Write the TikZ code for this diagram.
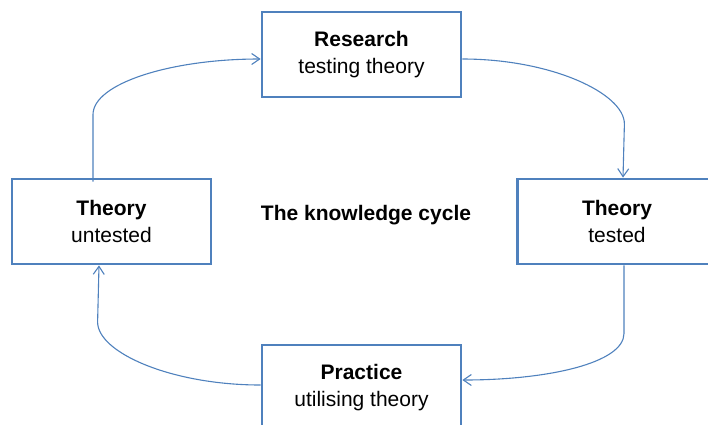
\documentclass[tikz,border=0pt]{standalone}
\usepackage{fontspec}
\setmainfont{Liberation Sans}
\usetikzlibrary{arrows.meta}

\definecolor{cycblue}{RGB}{79,129,189}

\begin{document}
\begin{tikzpicture}[x=1pt, y=-1pt,
    box/.style={draw=cycblue, line width=2.8pt, fill=white, minimum width=199pt,
      minimum height=85pt, align=center, font=\fontsize{21pt}{27pt}\selectfont},
    cycarrow/.style={draw=cycblue, line width=1.1pt,
      -{Straight Barb[length=8pt, width=11pt]}}]
  % The knowledge cycle
  \useasboundingbox (0,0) rectangle (708,424);

  % Stages
  \node[box] (research) at (361.5, 54.5) {\textbf{Research}\\testing theory};
  \node[box] (untested) at (111.5, 221.5) {\textbf{Theory}\\untested};
  \node[box] (tested) at (617, 221.5) {\textbf{Theory}\\tested};
  \node[box] (practice) at (361.5, 387.5) {\textbf{Practice}\\utilising theory};

  % Title
  \node[anchor=base, font=\fontsize{21pt}{27pt}\selectfont\bfseries] (title)
    at (366, 220) {The knowledge cycle};

  % Connectors round the cycle
  \draw[cycarrow] ([xshift=-18.5pt, yshift=-4pt]untested.north) -- ++(0,-67)
    to[out=90, in=180, out looseness=0.45, in looseness=1.3]
    ([yshift=-4.5pt]research.west);
  \draw[cycarrow] ([yshift=-4.5pt]research.east)
    to[out=0, in=90, out looseness=1.3, in looseness=0.45] ++(162,65)
    -- ([xshift=6pt]tested.north);
  \draw[cycarrow] ([xshift=7pt]tested.south) -- ++(0,68)
    to[out=-90, in=0, out looseness=0.45, in looseness=1.3]
    ([yshift=7.5pt]practice.east);
  \draw[cycarrow] ([yshift=2.5pt]practice.west)
    to[out=180, in=-90, out looseness=1.3, in looseness=0.45] ++(-163,-63)
    -- ([xshift=-12.5pt]untested.south);
\end{tikzpicture}
\end{document}
